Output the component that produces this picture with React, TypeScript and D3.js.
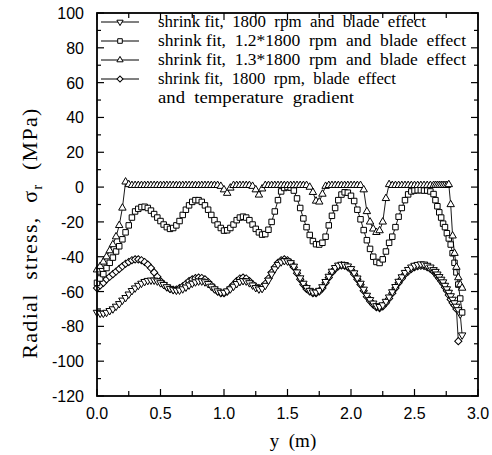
import React from "react";
import * as d3 from "d3";

// ---------- data ----------
const xs: number[] = [
  0, 0.025, 0.05, 0.075, 0.1, 0.125, 0.15, 0.175, 0.2, 0.225,
  0.25, 0.275, 0.3, 0.325, 0.35, 0.375, 0.4, 0.425, 0.45, 0.475,
  0.5, 0.525, 0.55, 0.575, 0.6, 0.625, 0.65, 0.675, 0.7, 0.725,
  0.75, 0.775, 0.8, 0.825, 0.85, 0.875, 0.9, 0.925, 0.95, 0.975,
  1.0, 1.025, 1.05, 1.075, 1.1, 1.125, 1.15, 1.175, 1.2, 1.225,
  1.25, 1.275, 1.3, 1.325, 1.35, 1.375, 1.4, 1.425, 1.45, 1.475,
  1.5, 1.525, 1.55, 1.575, 1.6, 1.625, 1.65, 1.675, 1.7, 1.725,
  1.75, 1.775, 1.8, 1.825, 1.85, 1.875, 1.9, 1.925, 1.95, 1.975,
  2.0, 2.025, 2.05, 2.075, 2.1, 2.125, 2.15, 2.175, 2.2, 2.225,
  2.25, 2.275, 2.3, 2.325, 2.35, 2.375, 2.4, 2.425, 2.45, 2.475,
  2.5, 2.525, 2.55, 2.575, 2.6, 2.625, 2.65,
  2.665, 2.68, 2.695, 2.71, 2.725, 2.74, 2.755, 2.77, 2.785, 2.8, 2.815, 2.83, 2.845, 2.86, 2.875,
];

// shrink fit, 1800 rpm and blade effect (down triangles)
const s1800: (number | null)[] = [
  -72, -72.5, -72.5, -72, -71, -70, -68.5, -67, -65, -63.5,
  -61.5, -59.5, -58, -56.5, -55.3, -54.3, -53.7, -53.5, -53.5, -54,
  -55, -56, -57.3, -58.3, -59, -59.3, -59.2, -58.5, -57.5, -56.3,
  -55.3, -54.5, -54, -54, -54.5, -55.5, -57, -58.5, -59.7, -60.5,
  -60.5, -59.7, -58.5, -57, -55.5, -54.3, -53.8, -54, -55, -56.3,
  -57.8, -58.6, -58.3, -56.5, -53.5, -50, -47, -44.5, -43, -42.3,
  -42.5, -43.5, -45.5, -48.8, -52.2, -55.3, -57.8, -59.4, -60.3, -60.4,
  -59.4, -57.3, -54.3, -51.3, -48.4, -46.3, -44.9, -44.4, -44.6, -45.4,
  -46.9, -49.3, -52.3, -55.3, -58.7, -62.2, -64.7, -66.7, -68.2, -68.7,
  -67.7, -65.7, -63.2, -60.2, -57.2, -54.2, -51.6, -49.1, -47.4, -46,
  -45, -44.5, -44.2, -44.3, -45, -46, -47.5,
  -48.5, -50, -51.5, -53, -54.5, -56.5, -58.5, -60.5, -62.5, -64.5, -66.5, -68.5, -70.5, -73, -85,
];

// shrink fit, 1.2*1800 rpm and blade effect (squares)
const s12: (number | null)[] = [
  -55, -52.5, -50, -46.5, -43.5, -40.5, -37, -34, -30, -26,
  -22, -17.5, -14, -12.5, -11.5, -11.3, -12, -13.5, -15.5, -17.5,
  -19.5, -21.5, -23, -24, -23.5, -22, -19.5, -16, -13, -10.5,
  -8.5, -7.5, -7.5, -8.5, -10.5, -13, -16, -19, -21.5, -23.5,
  -25, -24.8, -23.5, -21.5, -19, -17.5, -17, -17.5, -19, -21.5,
  -24, -26, -27.3, -27, -24.5, -20, -14, -7.5, -2.5, -0.5,
  0, -0.3, -2, -6.5, -12, -18, -23, -27.5, -31, -32.8,
  -33, -32, -28.5, -22, -16.5, -12, -7.5, -4.3, -3, -3.2,
  -5, -8, -13, -18.5, -24.7, -30.5, -35.5, -40, -43, -43.6,
  -41.5, -37, -32, -28.5, -23, -17, -12, -7.5, -4.2, -2.5,
  -2, -1.8, -1.8, -2, -2, -2.5, -4,
  -7.5, -11, -14.5, -17.5, -21, -23, -26.5, -29.5, -33, -38, -43.5, -49, -56, -64, -72,
];

// shrink fit, 1.3*1800 rpm and blade effect (up triangles)
const s13: (number | null)[] = [
  -47.5, -45.5, -43, -40, -36.5, -33, -28.5, -22, -12, 3,
  1.5, 1, 1, 1, 1, 1, 1, 1, 1, 1,
  1, 1, 1, 1, 1, 1, 1, 1, 1, 1,
  1, 1, 1, 1, 1, 1, 1, 1, 1, 0.5,
  -1.5, -3.5, -0.5, 1, 1, 1, 1, 1, 1, 0.5,
  -1.5, -4.5, -1, 1, 1, 1, 1, 1, 1, 1,
  1, 1, 1, 1, 1, 1, 1, 0, -3, -8,
  -8.5, -4, 0.5, 1, 1, 1, 1, 1, 1, 1,
  1, 1, 1, 1, -1.5, -14, -20, -24, -26, -25,
  -20, -6.5, 1.5, 1, 1, 1, 1, 1, 1, 1,
  1, 1, 1, 1, 1, 1, 1,
  1, 1, 1, 1, 1, 1, 1, 1.5, -10, -28, -38, -46, -52, -56, -58,
];

// shrink fit, 1800 rpm, blade effect and temperature gradient (diamonds)
const sTemp: (number | null)[] = [
  -58, -56.5, -55, -53, -51.5, -50, -48.5, -47, -45.5, -44,
  -43, -42, -41.5, -41.5, -42, -43, -44.5, -46.5, -49, -51.5,
  -54, -56, -57.5, -58.5, -59, -58.8, -58, -57, -55.5, -54,
  -53, -52.3, -52, -52.2, -53, -54.5, -56.5, -58.5, -60, -61,
  -61, -60, -58, -56, -54, -52.5, -52, -52.5, -54, -55.8,
  -57.3, -58, -57.5, -55.5, -52.5, -49, -46, -43.5, -42, -41.5,
  -42, -43.5, -46, -49.5, -53, -56, -58.5, -60, -61, -61,
  -60, -58, -55, -52, -49, -47, -45.5, -45, -45.2, -46,
  -47.5, -50, -53, -56, -59.5, -63, -65.5, -67.5, -69, -69.5,
  -68.5, -66.5, -64, -61, -58, -55, -52.5, -50, -48.5, -47,
  -46, -45.5, -45.2, -45.3, -46, -47, -48.5,
  -49.5, -51, -52.5, -54, -55.5, -57.5, -59.5, -62, -64.5, -66.5, -68, -70, -88.5, null, null,
];

const legendLabels: string[] = [
  "shrink fit,  1800  rpm  and  blade  effect",
  "shrink fit,  1.2*1800  rpm  and  blade  effect",
  "shrink fit,  1.3*1800  rpm  and  blade  effect",
  "shrink fit,  1800  rpm,  blade  effect",
  "and  temperature  gradient",
];

const yTickValues: number[] = [100, 80, 60, 40, 20, 0, -20, -40, -60, -80, -100, -120];
const xTickValues: number[] = [0, 0.5, 1.0, 1.5, 2.0, 2.5, 3.0];

// ---------- layout ----------
const W = 492;
const H = 455;
const L = 97, R = 478, T = 13, B = 396;

const x = d3.scaleLinear().domain([0, 3]).range([L, R]);
const y = d3.scaleLinear().domain([-120, 100]).range([B, T]);

type Kind = "down" | "square" | "up" | "diamond";

const symbolPath = (kind: Kind, scale = 1) => {
  if (kind === "down" || kind === "up") return d3.symbol(d3.symbolTriangle, 24 * scale)()!;
  if (kind === "square") return d3.symbol(d3.symbolSquare, 30 * scale)()!;
  return d3.symbol(d3.symbolSquare, 26 * scale)()!;
};
const symbolRot = (kind: Kind) => (kind === "down" ? 180 : kind === "diamond" ? 45 : 0);

const seriesList: { name: string; values: (number | null)[]; kind: Kind }[] = [
  { name: "temp", values: sTemp, kind: "diamond" },
  { name: "1800", values: s1800, kind: "down" },
  { name: "12", values: s12, kind: "square" },
  { name: "13", values: s13, kind: "up" },
];

const serif = "Liberation Serif";
const sans = "Liberation Sans";

function Series({ values, kind }: { values: (number | null)[]; kind: Kind }) {
  const pts = xs.map((xv, i) => [xv, values[i]] as [number, number | null]);
  const line = d3
    .line<[number, number | null]>()
    .defined((d) => d[1] !== null && d[1] !== undefined)
    .x((d) => x(d[0]))
    .y((d) => y(d[1] as number));
  const p = symbolPath(kind);
  const rot = symbolRot(kind);
  return (
    <g>
      <path d={line(pts) || ""} fill="none" stroke="#000" strokeWidth={0.9} />
      {pts
        .filter((d) => d[1] !== null && d[1] !== undefined)
        .map((d, i) => (
          <path
            key={i}
            d={p}
            transform={`translate(${x(d[0])},${y(d[1] as number)}) rotate(${rot})`}
            fill="#fff"
            stroke="#000"
            strokeWidth={1}
          />
        ))}
    </g>
  );
}

export default function App() {
  const leftTicks = d3.range(-120, 101, 10);
  const bottomTicks = d3.range(0, 3.001, 0.25);
  const legendKinds: (Kind | null)[] = ["down", "square", "up", "diamond", null];
  const legendRowY = [22, 41, 60, 79, 98];
  const legendWidths = [268, 308, 308, 238, 196];

  return (
    <svg width={W} height={H} style={{ position: "absolute", left: 0, top: 0, background: "#fff" }}>
      <rect x={0} y={0} width={W} height={H} fill="#fff" />
      {/* ticks */}
      {leftTicks.map((v) => {
        const len = v % 20 === 0 ? 7 : 4;
        return (
          <g key={"yt" + v}>
            <line x1={L} x2={L + len} y1={y(v)} y2={y(v)} stroke="#000" strokeWidth={1.2} />
            <line x1={R} x2={R - len} y1={y(v)} y2={y(v)} stroke="#000" strokeWidth={1.2} />
          </g>
        );
      })}
      {bottomTicks.map((v) => {
        const len = Math.abs((v * 2) % 1) < 1e-6 ? 7 : 5;
        return (
          <g key={"xt" + v}>
            <line x1={x(v)} x2={x(v)} y1={B} y2={B - len} stroke="#000" strokeWidth={1.2} />
            <line x1={x(v)} x2={x(v)} y1={T} y2={T + len} stroke="#000" strokeWidth={1.2} />
          </g>
        );
      })}

      {/* data */}
      {seriesList.map((s) => (
        <Series key={s.name} values={s.values} kind={s.kind} />
      ))}

      {/* frame */}
      <rect x={L} y={T} width={R - L} height={B - T} fill="none" stroke="#000" strokeWidth={1.8} />

      {/* tick labels */}
      {yTickValues.map((v) => (
        <text key={"yl" + v} x={84} y={y(v) + 6} textAnchor="end" fontFamily={sans} fontSize={16}>
          {v}
        </text>
      ))}
      {xTickValues.map((v) => (
        <text key={"xl" + v} x={x(v)} y={419} textAnchor="middle" fontFamily={sans} fontSize={16}>
          {v.toFixed(1)}
        </text>
      ))}

      {/* axis titles */}
      <text
        transform={`translate(37,233) rotate(-90)`}
        textAnchor="middle"
        fontFamily={serif}
        fontSize={22}
        letterSpacing={1.3}
        style={{ whiteSpace: "pre" }}
      >
        {"Radial  stress,  σ"}
        <tspan fontSize={14} dy={5}>r</tspan>
        <tspan dy={-5}>{"  (MPa)"}</tspan>
      </text>
      <text x={293} y={447} textAnchor="middle" fontFamily={serif} fontSize={19} style={{ whiteSpace: "pre" }}>
        {"y  (m)"}
      </text>

      {/* legend */}
      {legendLabels.map((lab, i) => {
        const cy = legendRowY[i];
        const k = legendKinds[i];
        return (
          <g key={"lg" + i}>
            {k && (
              <>
                <line x1={101} x2={139} y1={cy} y2={cy} stroke="#000" strokeWidth={1} />
                <path
                  d={symbolPath(k, 0.7)}
                  transform={`translate(120,${cy}) rotate(${symbolRot(k)})`}
                  fill="#fff"
                  stroke="#000"
                  strokeWidth={1}
                />
              </>
            )}
            <text
              x={158}
              y={cy + 5}
              fontFamily={serif}
              fontSize={17}
              textLength={legendWidths[i]}
              lengthAdjust="spacingAndGlyphs"
              style={{ whiteSpace: "pre" }}
            >
              {lab}
            </text>
          </g>
        );
      })}
    </svg>
  );
}
